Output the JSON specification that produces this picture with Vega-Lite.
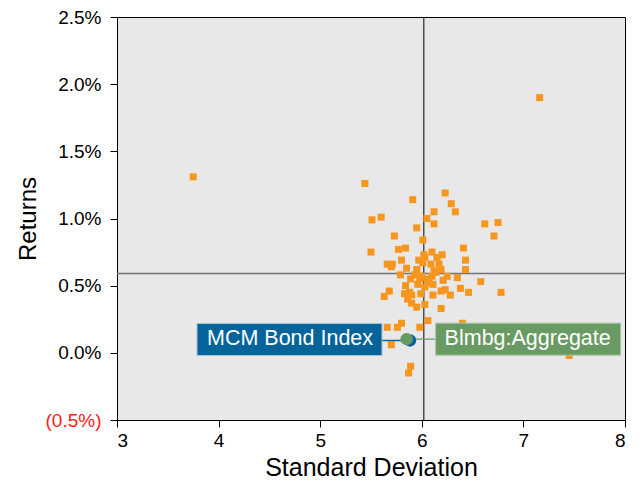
{
  "$schema": "https://vega.github.io/schema/vega-lite/v6.json",
  "width": 508,
  "height": 403,
  "autosize": {"type": "none"},
  "padding": {"left": 117, "top": 17, "right": 17, "bottom": 61},
  "background": "white",
  "view": {"fill": "#E8E8E8", "stroke": "#000000", "strokeWidth": 1},
  "config": {
    "font": "Liberation Sans",
    "axis": {
      "labelFont": "Liberation Sans",
      "titleFont": "Liberation Sans",
      "labelFontSize": 19,
      "titleFontSize": 24,
      "titleFontWeight": "normal",
      "labelColor": "#000000",
      "titleColor": "#000000",
      "domainColor": "#000000",
      "tickColor": "#000000",
      "tickSize": 7,
      "grid": false
    }
  },
  "datasets": {
    "funds": [
      {"sd": 3.75, "ret": 0.0131}, {"sd": 7.16, "ret": 0.0190}, {"sd": 7.45, "ret": -0.0002},
      {"sd": 5.44, "ret": 0.0126}, {"sd": 5.51, "ret": 0.0099}, {"sd": 5.60, "ret": 0.0101},
      {"sd": 5.91, "ret": 0.0114}, {"sd": 6.23, "ret": 0.0119}, {"sd": 6.29, "ret": 0.0111},
      {"sd": 6.33, "ret": 0.0105}, {"sd": 6.12, "ret": 0.0105}, {"sd": 6.05, "ret": 0.0100},
      {"sd": 6.12, "ret": 0.0096}, {"sd": 6.62, "ret": 0.0096}, {"sd": 6.75, "ret": 0.0097},
      {"sd": 5.95, "ret": 0.0093}, {"sd": 6.71, "ret": 0.0087}, {"sd": 5.73, "ret": 0.0087},
      {"sd": 6.01, "ret": 0.0084}, {"sd": 5.50, "ret": 0.0075}, {"sd": 5.77, "ret": 0.0077},
      {"sd": 5.84, "ret": 0.0078}, {"sd": 6.41, "ret": 0.0078}, {"sd": 6.10, "ret": 0.0075},
      {"sd": 6.20, "ret": 0.0073}, {"sd": 6.02, "ret": 0.0073}, {"sd": 5.80, "ret": 0.0069},
      {"sd": 5.97, "ret": 0.0069}, {"sd": 6.15, "ret": 0.0071}, {"sd": 6.43, "ret": 0.0069},
      {"sd": 5.66, "ret": 0.0066}, {"sd": 5.71, "ret": 0.0066}, {"sd": 5.70, "ret": 0.0064},
      {"sd": 6.09, "ret": 0.0066}, {"sd": 6.17, "ret": 0.0066}, {"sd": 5.85, "ret": 0.0063},
      {"sd": 6.43, "ret": 0.0062}, {"sd": 5.95, "ret": 0.0062}, {"sd": 5.79, "ret": 0.0058},
      {"sd": 5.89, "ret": 0.0055}, {"sd": 6.00, "ret": 0.0057}, {"sd": 6.03, "ret": 0.0071},
      {"sd": 6.01, "ret": 0.0067}, {"sd": 6.19, "ret": 0.0062}, {"sd": 6.12, "ret": 0.0061},
      {"sd": 6.10, "ret": 0.0057}, {"sd": 6.14, "ret": 0.0060}, {"sd": 6.25, "ret": 0.0057},
      {"sd": 6.21, "ret": 0.0054}, {"sd": 6.19, "ret": 0.0046}, {"sd": 6.35, "ret": 0.0056},
      {"sd": 6.38, "ret": 0.0048}, {"sd": 6.46, "ret": 0.0045}, {"sd": 6.58, "ret": 0.0053},
      {"sd": 6.78, "ret": 0.0045}, {"sd": 6.23, "ret": 0.0047}, {"sd": 6.28, "ret": 0.0043},
      {"sd": 6.11, "ret": 0.0051}, {"sd": 6.11, "ret": 0.0043}, {"sd": 5.84, "ret": 0.0050},
      {"sd": 5.88, "ret": 0.0045}, {"sd": 5.83, "ret": 0.0044}, {"sd": 5.90, "ret": 0.0043},
      {"sd": 5.96, "ret": 0.0051}, {"sd": 5.99, "ret": 0.0044}, {"sd": 6.03, "ret": 0.0049},
      {"sd": 5.68, "ret": 0.0046}, {"sd": 5.63, "ret": 0.0042}, {"sd": 5.93, "ret": 0.0058},
      {"sd": 6.05, "ret": 0.0055}, {"sd": 6.07, "ret": 0.0052}, {"sd": 5.98, "ret": 0.0055},
      {"sd": 5.86, "ret": 0.0040}, {"sd": 5.90, "ret": 0.0037}, {"sd": 5.95, "ret": 0.0034},
      {"sd": 6.03, "ret": 0.0036}, {"sd": 6.19, "ret": 0.0033}, {"sd": 6.06, "ret": 0.0024},
      {"sd": 5.98, "ret": 0.0019}, {"sd": 5.80, "ret": 0.0022}, {"sd": 5.76, "ret": 0.0019},
      {"sd": 5.66, "ret": 0.0019}, {"sd": 5.70, "ret": 0.0006}, {"sd": 6.40, "ret": 0.0022},
      {"sd": 5.89, "ret": -0.0010}, {"sd": 5.87, "ret": -0.0015}
    ],
    "indexes": [
      {"name": "MCM Bond Index", "sd": 5.884, "ret": 0.00092},
      {"name": "Blmbg:Aggregate", "sd": 5.851, "ret": 0.00102}
    ],
    "refs": [{"sdRef": 6.02, "retRef": 0.0059}]
  },
  "encoding": {
    "x": {
      "type": "quantitative",
      "scale": {"domain": [3, 8], "nice": false, "zero": false}
    },
    "y": {
      "type": "quantitative",
      "scale": {"domain": [-0.005, 0.025], "nice": false, "zero": false}
    }
  },
  "layer": [
    {
      "data": {"name": "refs"},
      "mark": {"type": "rule", "color": "#000000", "strokeWidth": 1},
      "encoding": {
        "x": {
          "field": "sdRef", "type": "quantitative",
          "axis": {
            "title": "Standard Deviation",
            "values": [3, 4, 5, 6, 7, 8],
            "format": "d",
            "labelPadding": 4,
            "titlePadding": 5,
            "titleFontSize": 25
          }
        }
      }
    },
    {
      "data": {"name": "refs"},
      "mark": {"type": "rule", "color": "#737373", "strokeWidth": 1.5},
      "encoding": {
        "y": {
          "field": "retRef", "type": "quantitative",
          "axis": {
            "title": "Returns",
            "values": [-0.005, 0, 0.005, 0.01, 0.015, 0.02, 0.025],
            "labelExpr": "datum.value < 0 ? '(' + format(-datum.value, '.1%') + ')' : format(datum.value, '.1%')",
            "labelColor": {"condition": {"test": "datum.value < 0", "value": "#FF2020"}, "value": "#000000"},
            "labelPadding": 9,
            "titlePadding": 5
          }
        }
      }
    },
    {
      "data": {"name": "funds"},
      "mark": {"type": "point", "shape": "square", "filled": true, "size": 49, "color": "#F7961E", "opacity": 1},
      "encoding": {
        "x": {"field": "sd", "type": "quantitative"},
        "y": {"field": "ret", "type": "quantitative"}
      }
    },
    {
      "data": {"name": "indexes"},
      "transform": [{"filter": "datum.name === 'MCM Bond Index'"}],
      "mark": {"type": "rule", "color": "#0A649B", "strokeWidth": 1.5, "xOffset": -60, "x2Offset": 0},
      "encoding": {
        "x": {"field": "sd", "type": "quantitative"},
        "x2": {"field": "sd"},
        "y": {"field": "ret", "type": "quantitative"}
      }
    },
    {
      "data": {"name": "indexes"},
      "transform": [{"filter": "datum.name === 'Blmbg:Aggregate'"}],
      "mark": {"type": "rule", "color": "#6B9B65", "strokeWidth": 1.2, "xOffset": 0, "x2Offset": 60},
      "encoding": {
        "x": {"field": "sd", "type": "quantitative"},
        "x2": {"field": "sd"},
        "y": {"field": "ret", "type": "quantitative"}
      }
    },
    {
      "data": {"name": "indexes"},
      "transform": [{"filter": "datum.name === 'MCM Bond Index'"}],
      "mark": {"type": "rect", "color": "#07649B", "stroke": "#A6C2D6", "strokeWidth": 1, "xOffset": -213, "x2Offset": -28, "yOffset": -17, "y2Offset": 15},
      "encoding": {
        "x": {"field": "sd", "type": "quantitative"},
        "x2": {"field": "sd"},
        "y": {"field": "ret", "type": "quantitative"},
        "y2": {"field": "ret"}
      }
    },
    {
      "data": {"name": "indexes"},
      "transform": [{"filter": "datum.name === 'Blmbg:Aggregate'"}],
      "mark": {"type": "rect", "color": "#6A9A64", "stroke": "#A9C6A5", "strokeWidth": 1, "xOffset": 29, "x2Offset": 214, "yOffset": -16, "y2Offset": 16},
      "encoding": {
        "x": {"field": "sd", "type": "quantitative"},
        "x2": {"field": "sd"},
        "y": {"field": "ret", "type": "quantitative"},
        "y2": {"field": "ret"}
      }
    },
    {
      "data": {"name": "indexes"},
      "transform": [{"filter": "datum.name === 'MCM Bond Index'"}],
      "mark": {"type": "text", "color": "#FFFFFF", "font": "Liberation Sans", "fontSize": 21.5, "align": "center", "baseline": "middle", "dx": -120, "dy": -1},
      "encoding": {
        "x": {"field": "sd", "type": "quantitative"},
        "y": {"field": "ret", "type": "quantitative"},
        "text": {"field": "name"}
      }
    },
    {
      "data": {"name": "indexes"},
      "transform": [{"filter": "datum.name === 'Blmbg:Aggregate'"}],
      "mark": {"type": "text", "color": "#FFFFFF", "font": "Liberation Sans", "fontSize": 21.5, "align": "center", "baseline": "middle", "dx": 121, "dy": 0},
      "encoding": {
        "x": {"field": "sd", "type": "quantitative"},
        "y": {"field": "ret", "type": "quantitative"},
        "text": {"field": "name"}
      }
    },
    {
      "data": {"name": "indexes"},
      "transform": [{"filter": "datum.name === 'MCM Bond Index'"}],
      "mark": {"type": "point", "shape": "circle", "filled": true, "size": 154, "color": "#07649B", "opacity": 1},
      "encoding": {
        "x": {"field": "sd", "type": "quantitative"},
        "y": {"field": "ret", "type": "quantitative"}
      }
    },
    {
      "data": {"name": "indexes"},
      "transform": [{"filter": "datum.name === 'Blmbg:Aggregate'"}],
      "mark": {"type": "point", "shape": "circle", "filled": true, "size": 154, "color": "#6A9A64", "opacity": 1},
      "encoding": {
        "x": {"field": "sd", "type": "quantitative"},
        "y": {"field": "ret", "type": "quantitative"}
      }
    }
  ]
}
